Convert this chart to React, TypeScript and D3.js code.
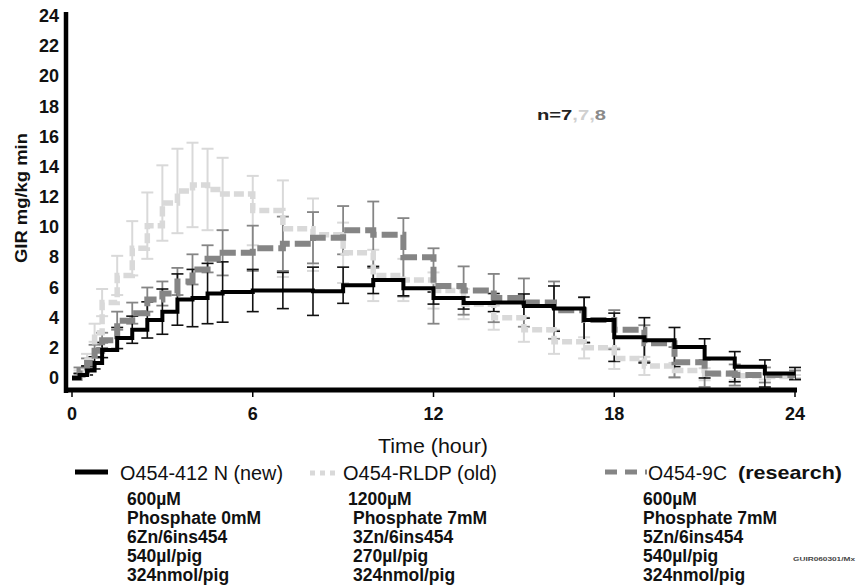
import React from "react";
import * as d3 from "d3";

const times = [0, 0.25, 0.5, 0.75, 1, 1.5, 2, 2.5, 3, 3.5, 4, 4.5, 5, 6, 7, 8, 9, 10, 11, 12, 13, 14, 15, 16, 17, 18, 19, 20, 21, 22, 23, 24];

const newMean = [0, 0.2, 0.5, 1.0, 1.85, 2.65, 3.2, 3.85, 4.4, 5.2, 5.3, 5.6, 5.7, 5.8, 5.8, 5.75, 6.15, 6.5, 5.95, 5.3, 4.97, 5.0, 4.77, 4.6, 3.85, 2.7, 2.5, 2.05, 1.3, 0.75, 0.3, 0.3];
const newErr = [0, 0.1, 0.3, 0.4, 0.5, 0.7, 0.9, 1.2, 1.5, 1.7, 1.9, 2.0, 2.0, 1.4, 1.2, 1.6, 1.2, 0.9, 0.5, 0.4, 0.4, 0.6, 0.8, 1.5, 1.5, 1.6, 1.5, 1.3, 1.3, 1.0, 0.9, 0.4];

const oldMean = [0, 0.3, 1.2, 3.0, 5.0, 6.8, 8.6, 10.1, 11.6, 12.4, 12.8, 12.5, 12.2, 11.1, 9.9, 9.5, 8.3, 6.8, 6.5, 5.8, 4.9, 4.0, 3.2, 2.4, 2.0, 1.3, 0.8, 0.5, 0.25, 0.15, 0.1, 0.1];
const oldErr = [0, 0.2, 0.4, 0.6, 0.9, 1.3, 1.8, 2.2, 2.5, 2.8, 2.8, 2.7, 2.4, 2.3, 3.2, 2.4, 2.0, 1.7, 1.4, 1.2, 1.0, 0.8, 0.8, 0.8, 0.7, 0.7, 0.6, 0.5, 0.4, 0.3, 0.2, 0.1];

const resMean = [0, 0.5, 1.0, 1.8, 2.5, 3.8, 4.3, 5.2, 5.6, 6.4, 7.2, 7.9, 8.3, 8.6, 8.9, 9.3, 9.8, 9.5, 8.0, 6.1, 5.8, 5.3, 5.0, 4.5, 3.85, 3.2, 2.3, 1.05, 0.3, 0.2, 0.2, 0.2];
const resErr = [0, 0.2, 0.3, 0.4, 0.5, 0.6, 0.7, 0.8, 0.8, 0.9, 1.0, 0.9, 1.5, 1.5, 1.8, 1.7, 1.6, 2.2, 2.6, 2.5, 1.6, 1.6, 1.6, 1.9, 1.5, 1.3, 1.2, 1.0, 0.9, 0.7, 0.5, 0.3];

const xTicks = [0, 6, 12, 18, 24];
const yTicks = [0, 2, 4, 6, 8, 10, 12, 14, 16, 18, 20, 22, 24];

const seriesNames = ["O454-412 N (new)", "O454-RLDP (old)", "O454-9C"];
const col1Lines = ["600\u00b5M", "Phosphate 0mM", "6Zn/6ins454", "540\u00b5l/pig", "324nmol/pig"];
const col2Lines = ["1200\u00b5M", "Phosphate 7mM", "3Zn/6ins454", "270\u00b5l/pig", "324nmol/pig"];
const col3Lines = ["600\u00b5M", "Phosphate 7mM", "5Zn/6ins454", "540\u00b5l/pig", "324nmol/pig"];

const FONT = "'Liberation Sans', Arial, sans-serif";

export default function App() {
  const x = d3.scaleLinear().domain([0, 24]).range([72, 795]);
  const y = d3.scaleLinear().domain([0, 24]).range([378, 16]);

  const mk = (mean: number[]) =>
    d3
      .line<number>()
      .x((_, i) => x(times[i]))
      .y((d) => y(d))
      .curve(d3.curveStepAfter)(mean) as string;

  const errBars = (mean: number[], err: number[], color: string, sw: number, cap: number) =>
    times.map((t, i) => {
      if (err[i] <= 0) return null;
      const cx = x(t);
      const y1 = y(mean[i] + err[i]);
      const y2 = y(mean[i] - err[i]);
      return (
        <g key={i} stroke={color} strokeWidth={sw}>
          <line x1={cx} x2={cx} y1={y1} y2={y2} />
          <line x1={cx - cap / 2} x2={cx + cap / 2} y1={y1} y2={y1} />
          <line x1={cx - cap / 2} x2={cx + cap / 2} y1={y2} y2={y2} />
        </g>
      );
    });

  const LIGHT = "#d9d9d9";
  const DARK = "#858585";

  const detail = (lines: string[], x0: number, x1: number) =>
    lines.map((s, i) => (
      <text key={i} x={i === 0 ? x0 : x1} y={505 + i * 19} fontFamily={FONT} fontWeight="bold" fontSize={17.5} fill="#111">
        {s}
      </text>
    ));

  return (
    <svg width={857} height={585} style={{ position: "absolute", left: 0, top: 0, background: "#fff" }}>
      {/* error bars */}
      {errBars(oldMean, oldErr, LIGHT, 2, 12)}
      {errBars(resMean, resErr, DARK, 1.8, 12)}
      {errBars(newMean, newErr, "#111", 1.6, 12)}

      {/* lines */}
      <path d={mk(oldMean)} fill="none" stroke={LIGHT} strokeWidth={5.5} strokeDasharray="10 4" />
      <path d={mk(resMean)} fill="none" stroke={DARK} strokeWidth={6} strokeDasharray="16 5" />
      <path d={mk(newMean)} fill="none" stroke="#000" strokeWidth={4} />

      {/* axes */}
      <line x1={66} x2={66} y1={12} y2={393} stroke="#000" strokeWidth={4.5} />
      <line x1={64} x2={797} y1={390} y2={390} stroke="#000" strokeWidth={5} />
      {xTicks.map((t) => (
        <g key={t}>
          <line x1={x(t)} x2={x(t)} y1={390} y2={397} stroke="#000" strokeWidth={1.5} />
          <text x={x(t)} y={420} textAnchor="middle" fontFamily={FONT} fontWeight="bold" fontSize={18} fill="#111">
            {t}
          </text>
        </g>
      ))}
      {yTicks.map((t) => (
        <text key={t} x={59} y={y(t) + 6} textAnchor="end" fontFamily={FONT} fontWeight="bold" fontSize={18} fill="#111">
          {t}
        </text>
      ))}

      <text
        transform="translate(27,198) rotate(-90)"
        textAnchor="middle"
        fontFamily={FONT}
        fontWeight="bold"
        fontSize={17}
        fill="#111"
        textLength={130}
        lengthAdjust="spacingAndGlyphs"
      >
        GIR mg/kg min
      </text>

      <text x={433} y={453} textAnchor="middle" fontFamily={FONT} fontSize={20} fill="#111" textLength={110} lengthAdjust="spacingAndGlyphs">
        Time (hour)
      </text>

      <text x={537} y={120} fontFamily={FONT} fontWeight="bold" fontSize={15} textLength={69} lengthAdjust="spacingAndGlyphs">
        <tspan fill="#222">n=7</tspan>
        <tspan fill="#d0d0d0">,7,</tspan>
        <tspan fill="#8a8a8a">8</tspan>
      </text>

      {/* legend */}
      <line x1={75} x2={108} y1={472} y2={472} stroke="#000" strokeWidth={5} />
      <text x={120} y={480} fontFamily={FONT} fontSize={20} fill="#111" textLength={163} lengthAdjust="spacingAndGlyphs">
        {seriesNames[0]}
      </text>
      <line x1={310} x2={337} y1={473} y2={473} stroke={LIGHT} strokeWidth={5} strokeDasharray="5 5" />
      <text x={343} y={480} fontFamily={FONT} fontSize={20} fill="#111" textLength={154} lengthAdjust="spacingAndGlyphs">
        {seriesNames[1]}
      </text>
      <line x1={605} x2={647} y1={472} y2={472} stroke={DARK} strokeWidth={5} strokeDasharray="12 8" />
      <text x={648} y={480} fontFamily={FONT} fontSize={20} fill="#111" textLength={79} lengthAdjust="spacingAndGlyphs">
        {seriesNames[2]}
      </text>
      <text x={738} y={479} fontFamily={FONT} fontWeight="bold" fontSize={19} fill="#111" textLength={104} lengthAdjust="spacingAndGlyphs">
        (research)
      </text>

      {detail(col1Lines, 127, 127)}
      {detail(col2Lines, 348, 353)}
      {detail(col3Lines, 643, 643)}

      <text x={793} y={561} fontFamily={FONT} fontWeight="bold" fontSize={6} fill="#444" textLength={62} lengthAdjust="spacingAndGlyphs">
        GUIR060301/Mx
      </text>
    </svg>
  );
}
